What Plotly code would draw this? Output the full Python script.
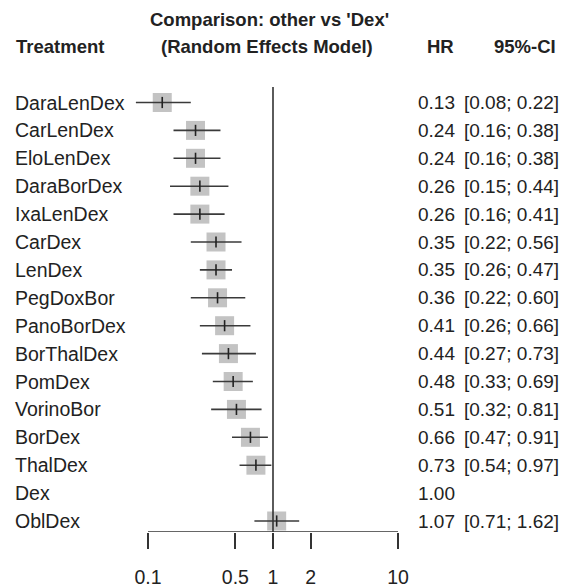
import plotly.graph_objects as go

treatments = ["DaraLenDex", "CarLenDex", "EloLenDex", "DaraBorDex", "IxaLenDex", "CarDex",
              "LenDex", "PegDoxBor", "PanoBorDex", "BorThalDex", "PomDex", "VorinoBor",
              "BorDex", "ThalDex", "Dex", "OblDex"]
hr = [0.13, 0.24, 0.24, 0.26, 0.26, 0.35, 0.35, 0.36, 0.41, 0.44, 0.48, 0.51, 0.66, 0.73, 1.00, 1.07]
lower = [0.08, 0.16, 0.16, 0.15, 0.16, 0.22, 0.26, 0.22, 0.26, 0.27, 0.33, 0.32, 0.47, 0.54, None, 0.71]
upper = [0.22, 0.38, 0.38, 0.44, 0.41, 0.56, 0.47, 0.60, 0.66, 0.73, 0.69, 0.81, 0.91, 0.97, None, 1.62]
tick_vals = [0.1, 0.5, 1, 2, 10]
tick_text = ["0.1", "0.5", "1", "2", "10"]

# page has an 8px body margin; figure is sized to fit the 567x588 window
OFF = 8
W, H = 567 - OFF, 588 - OFF
FONT = "Liberation Sans, Arial, sans-serif"
TXT = "#222222"
rows = list(range(len(treatments)))

ci_rows = [i for i in rows if lower[i] is not None]
x_ci = [hr[i] for i in ci_rows]
y_ci = ci_rows
err_plus = [upper[i] - hr[i] for i in ci_rows]
err_minus = [hr[i] - lower[i] for i in ci_rows]

fig = go.Figure()
fig.add_trace(go.Scatter(
    x=x_ci, y=y_ci, mode="markers",
    marker=dict(symbol="square", size=19, color="#c3c3c3", line=dict(width=0)),
    hoverinfo="skip", showlegend=False))
fig.add_trace(go.Scatter(
    x=x_ci, y=y_ci, mode="markers",
    marker=dict(symbol="line-ns", size=8, line=dict(width=1.6, color="#222222"), color="#222222"),
    error_x=dict(type="data", array=err_plus, arrayminus=err_minus, symmetric=False,
                 width=0, thickness=1.6, color="#3a3a3a"),
    hoverinfo="skip", showlegend=False))

ROW0_PAGE, STEP = 102.5, 27.9   # page pixel of first row, row spacing
AXIS_PAGE = 532
def ypx(p):
    return (p - ROW0_PAGE) / STEP
def px(p):
    return (p - OFF) / W

y_axis_row = ypx(AXIS_PAGE)

fig.add_shape(type="line", xref="x", yref="y", x0=1, x1=1, y0=ypx(87), y1=y_axis_row,
              line=dict(color="#333333", width=1.6))
fig.add_shape(type="line", xref="x", yref="y", x0=min(tick_vals), x1=max(tick_vals),
              y0=y_axis_row, y1=y_axis_row, line=dict(color="#333333", width=1.6))

ann = []
label_font = dict(family=FONT, size=19.5, color=TXT)
value_font = dict(family=FONT, size=19, color=TXT)
for i, t in enumerate(treatments):
    ann.append(dict(x=px(13), y=i, xref="paper", yref="y", text=t, showarrow=False,
                    xanchor="left", yanchor="middle", font=label_font))
    ann.append(dict(x=px(457), y=i, xref="paper", yref="y", text=f"{hr[i]:.2f}", showarrow=False,
                    xanchor="right", yanchor="middle", font=value_font))
    if lower[i] is not None:
        ann.append(dict(x=px(462), y=i, xref="paper", yref="y",
                        text=f"[{lower[i]:.2f}; {upper[i]:.2f}]", showarrow=False,
                        xanchor="left", yanchor="middle", font=value_font))

hdr_font = dict(family=FONT, size=18.5, color=TXT)
headers = [
    ("<b>Comparison: other vs 'Dex'</b>", 269, 19, "center"),
    ("<b>(Random Effects Model)</b>", 267, 46, "center"),
    ("<b>Treatment</b>", 14, 46, "left"),
    ("<b>HR</b>", 440, 46, "center"),
    ("<b>95%-CI</b>", 525, 46, "center"),
]
for text, xp, yp, anc in headers:
    ann.append(dict(x=px(xp), y=ypx(yp), xref="paper", yref="y", text=text, showarrow=False,
                    xanchor=anc, yanchor="middle", font=hdr_font))

x_left = -(273 - OFF) / 125
x_right = (567 - 273) / 125
fig.update_layout(
    width=W, height=H,
    margin=dict(l=0, r=0, t=0, b=588 - AXIS_PAGE - OFF, pad=0),
    paper_bgcolor="white", plot_bgcolor="white",
    annotations=ann,
    xaxis=dict(type="log", range=[x_left, x_right], tickvals=tick_vals, ticktext=tick_text,
               ticks="outside", ticklen=16, tickwidth=1.6, tickcolor="#333333",
               showgrid=False, zeroline=False, showline=False, ticklabelstandoff=12,
               tickfont=dict(family=FONT, size=19.5, color=TXT)),
    yaxis=dict(range=[ypx(AXIS_PAGE), ypx(OFF)], showgrid=False, zeroline=False, showline=False,
               showticklabels=False, ticks=""),
)
fig.write_html("out.html")
